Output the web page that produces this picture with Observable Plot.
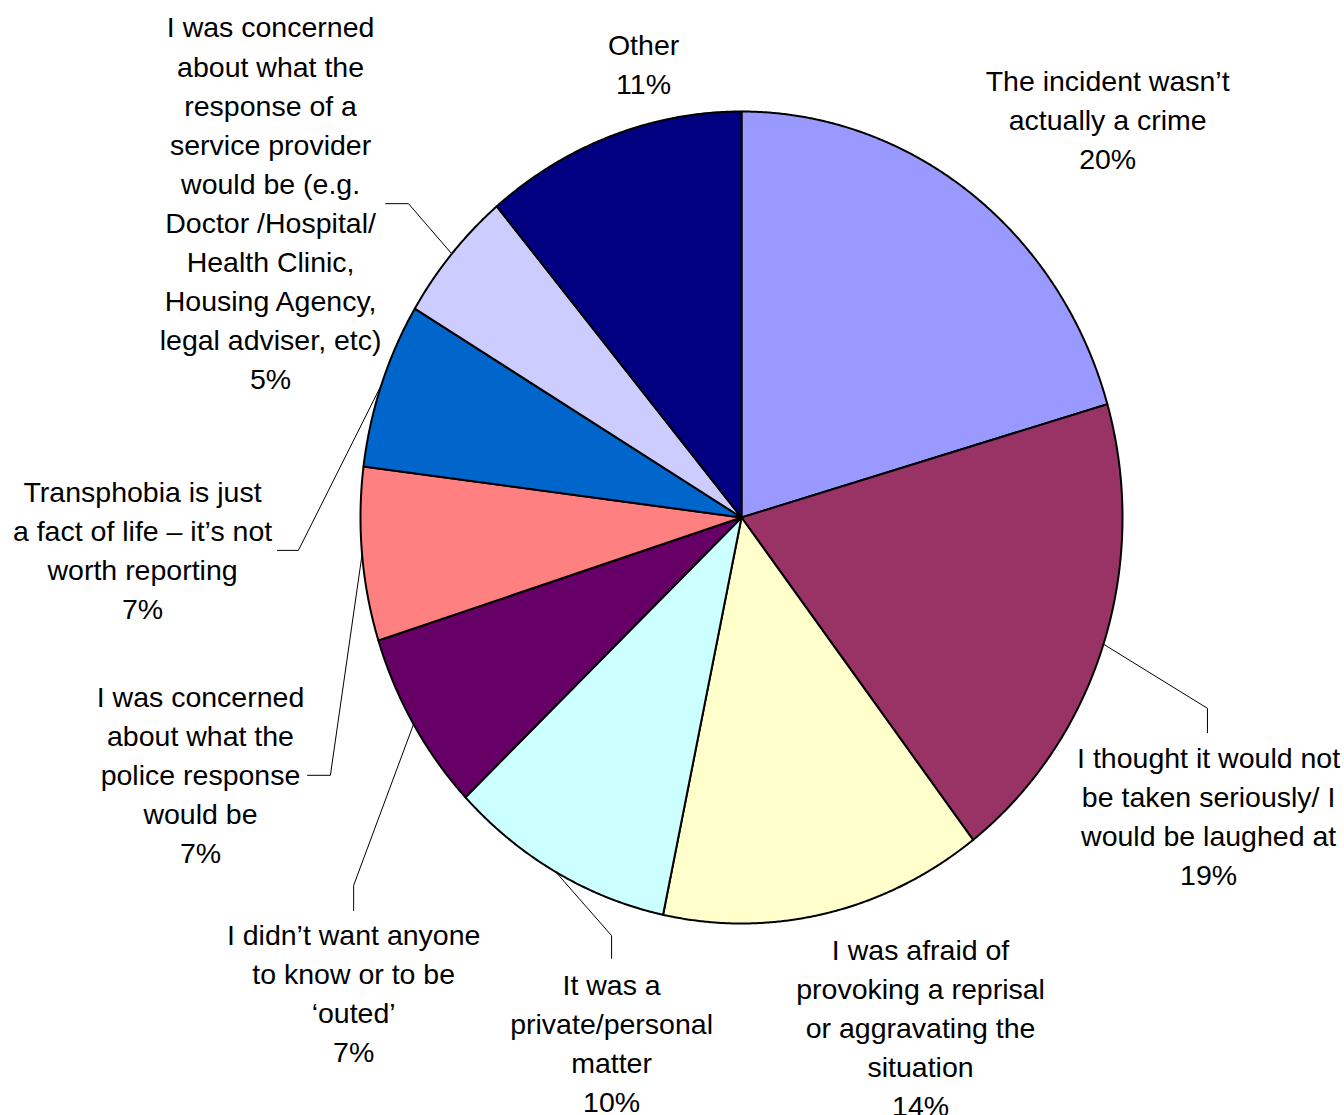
<!DOCTYPE html>
<html>
<head>
<meta charset="utf-8">
<script src="https://cdn.jsdelivr.net/npm/d3@7"></script>
<script src="https://cdn.jsdelivr.net/npm/@observablehq/plot@0.6"></script>
<style>
  html, body { margin: 0; padding: 0; background: #ffffff; }
  #chart svg { display: block; background: #ffffff; }
</style>
</head>
<body>
<div id="chart"></div>
<script>
// ---- Data ----
const categories = [
  "The incident wasn’t actually a crime",
  "I thought it would not be taken seriously/ I would be laughed at",
  "I was afraid of provoking a reprisal or aggravating the situation",
  "It was a private/personal matter",
  "I didn’t want anyone to know or to be ‘outed’",
  "I was concerned about what the police response would be",
  "Transphobia is just a fact of life – it’s not worth reporting",
  "I was concerned about what the response of a service provider would be (e.g. Doctor /Hospital/ Health Clinic, Housing Agency, legal adviser, etc)",
  "Other"
];
// slice shares
const shares = [20.5, 19.1, 13.7, 9.6, 7.2, 6.9, 6.6, 5.3, 11.1];
// percentages as printed on the labels
const percentLabels = ["20%", "19%", "14%", "10%", "7%", "7%", "7%", "5%", "11%"];
// label text as wrapped in the picture
const labelLines = [
  ["The incident wasn’t", "actually a crime"],
  ["I thought it would not", "be taken seriously/ I", "would be laughed at"],
  ["I was afraid of", "provoking a reprisal", "or aggravating the", "situation"],
  ["It was a", "private/personal", "matter"],
  ["I didn’t want anyone", "to know or to be", "‘outed’"],
  ["I was concerned", "about what the", "police response", "would be"],
  ["Transphobia is just", "a fact of life – it’s not", "worth reporting"],
  ["I was concerned", "about what the", "response of a", "service provider", "would be (e.g.", "Doctor /Hospital/", "Health Clinic,", "Housing Agency,", "legal adviser, etc)"],
  ["Other"]
];

// ---- Styles ----
const colors = ["#9999FF", "#993366", "#FFFFCC", "#CCFFFF", "#660066", "#FF8080", "#0066CC", "#CCCCFF", "#000080"];

// ---- Layout (pie in unit radius coordinates) ----
const W = 1344, H = 1115;
const centerPx = [741, 517];
const radiusPx = [381, 406];   // horizontal, vertical
// label block centres, in pie-radius units
const labelPos = [
  [0.961, 0.978], [1.226, -0.738], [0.470, -1.259], [-0.341, -1.297],
  [-1.018, -1.174], [-1.420, -0.635], [-1.572, -0.083], [-1.236, 0.773], [-0.257, 1.115]
];
// leader elbows: [elbow, end] in pie-radius units (null: no leader)
const leaderPts = [
  null,
  [[1.223, -0.470], [1.223, -0.530]],
  null,
  [[-0.341, -1.030], [-0.341, -1.086]],
  [[-1.018, -0.906], [-1.018, -0.968]],
  [[-1.079, -0.635], [-1.139, -0.635]],
  [[-1.163, -0.081], [-1.218, -0.081]],
  [[-0.874, 0.773], [-0.934, 0.773]],
  null
];

// ---- Build tables ----
const arcs = d3.pie().sort(null).value(d => d)(shares);
const slicePts = [];
arcs.forEach((a, i) => {
  slicePts.push({cat: categories[i], x: 0, y: 0});
  const n = Math.max(8, Math.ceil((a.endAngle - a.startAngle) / (Math.PI / 720)));
  for (let k = 0; k <= n; k++) {
    const t = a.startAngle + (a.endAngle - a.startAngle) * k / n;
    slicePts.push({cat: categories[i], x: Math.sin(t), y: Math.cos(t)});
  }
});

const leaderRows = [];
arcs.forEach((a, i) => {
  if (!leaderPts[i]) return;
  const m = (a.startAngle + a.endAngle) / 2;
  leaderRows.push({cat: categories[i], x: Math.sin(m), y: Math.cos(m)});
  leaderPts[i].forEach(p => leaderRows.push({cat: categories[i], x: p[0], y: p[1]}));
});

const labelRows = categories.map((c, i) => ({
  cat: c,
  x: labelPos[i][0],
  y: labelPos[i][1],
  text: labelLines[i].concat([percentLabels[i]]).join("\n")
}));

const xDomain = [-centerPx[0] / radiusPx[0], (W - centerPx[0]) / radiusPx[0]];
const yDomain = [-(H - centerPx[1]) / radiusPx[1], centerPx[1] / radiusPx[1]];

const chart = Plot.plot({
  width: W,
  height: H,
  margin: 0,
  x: {domain: xDomain, axis: null},
  y: {domain: yDomain, axis: null},
  color: {domain: categories, range: colors},
  style: {background: "#ffffff"},
  marks: [
    Plot.line(slicePts, {
      x: "x", y: "y", z: "cat", fill: "cat",
      stroke: "black", strokeWidth: 2, strokeLinejoin: "round",
      curve: "linear-closed"
    }),
    Plot.line(leaderRows, {
      x: "x", y: "y", z: "cat",
      stroke: "black", strokeWidth: 1, curve: "linear"
    }),
    Plot.text(labelRows, {
      x: "x", y: "y", text: "text", dy: -3,
      fontSize: 28.5, lineHeight: 1.37,
      fontFamily: "'Liberation Sans', Arial, sans-serif",
      fill: "black", textAnchor: "middle", lineAnchor: "middle"
    })
  ]
});
document.getElementById("chart").appendChild(chart);
</script>
</body>
</html>
